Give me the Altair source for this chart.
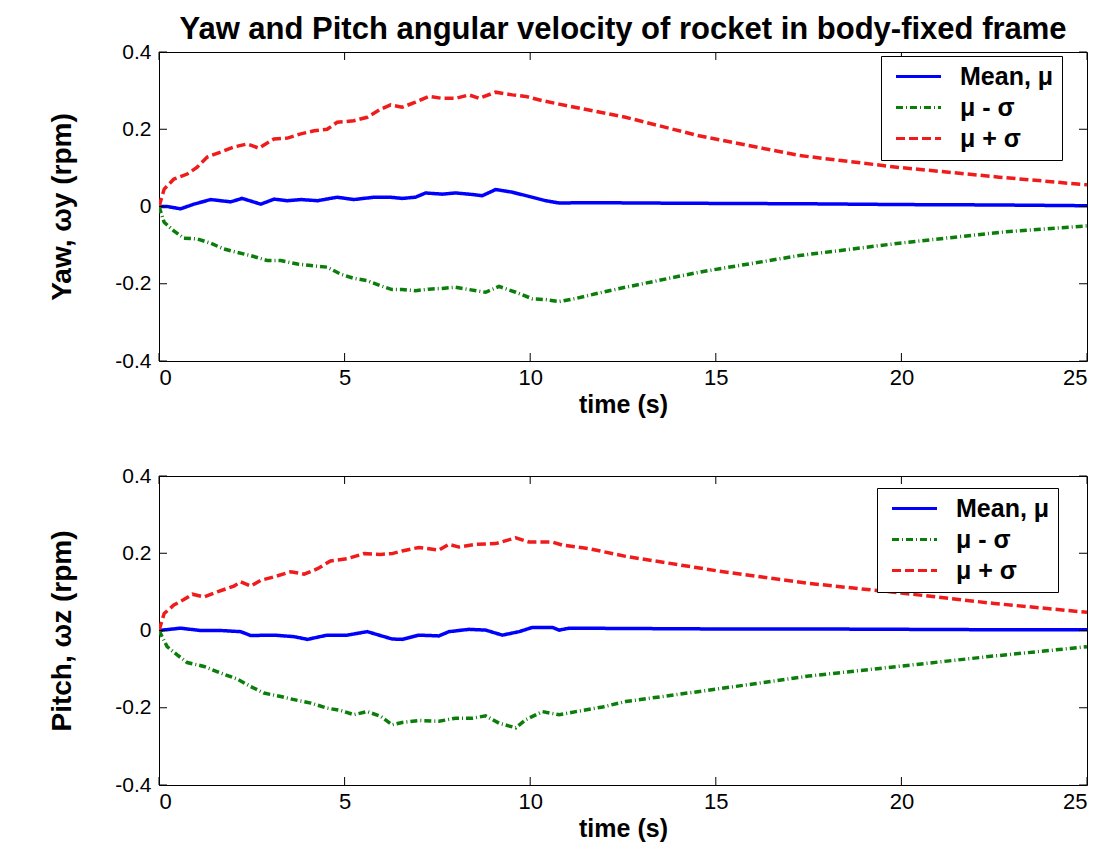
import altair as alt
import pandas as pd

# ---------------- data ----------------
SERIES = ["Mean, μ", "μ - σ", "μ + σ"]
COLORS = ["#0000ff", "#0a7d0a", "#f01c1c"]
DASHES = [[1, 0], [7, 3, 1, 3], [9, 4]]

X_TICKS = [0, 5, 10, 15, 20, 25]
Y_TICKS = [-0.4, -0.2, 0, 0.2, 0.4]

# Yaw (top panel)
yaw_mean_t = [0, 0.22, 0.58, 0.94, 1.39, 1.93, 2.24, 2.74, 3.10, 3.46, 3.82, 4.27, 4.80, 5.25,
              5.79, 6.24, 6.55, 6.91, 7.18, 7.63, 7.99, 8.35, 8.71, 9.07, 9.52, 9.97, 10.42,
              10.78, 11.58, 13, 15, 17.5, 20, 22.5, 25]
yaw_mean_v = [0.0, 0.0, -0.006, 0.006, 0.018, 0.012, 0.021, 0.006, 0.019, 0.015, 0.018, 0.015,
              0.024, 0.018, 0.024, 0.024, 0.021, 0.024, 0.035, 0.032, 0.035, 0.032, 0.028, 0.044,
              0.037, 0.026, 0.015, 0.009, 0.010, 0.009, 0.008, 0.007, 0.005, 0.004, 0.002]

yaw_lo_t = [0, 0.14, 0.40, 0.67, 1.03, 1.39, 1.75, 2.11, 2.47, 2.92, 3.28, 3.73, 4.09, 4.53, 4.89,
            5.25, 5.61, 5.97, 6.28, 6.55, 6.91, 7.27, 7.63, 7.99, 8.35, 8.80, 9.16, 9.61, 10.06,
            10.42, 10.78, 11.23, 11.85, 12.57, 14.55, 17.25, 19.94, 22.63, 25]
yaw_lo_v = [0.0, -0.041, -0.063, -0.082, -0.084, -0.095, -0.110, -0.119, -0.127, -0.140, -0.140,
            -0.149, -0.153, -0.157, -0.175, -0.186, -0.192, -0.205, -0.215, -0.215, -0.218,
            -0.214, -0.212, -0.209, -0.215, -0.222, -0.207, -0.222, -0.239, -0.241, -0.246,
            -0.238, -0.224, -0.209, -0.170, -0.127, -0.095, -0.067, -0.050]

yaw_hi_t = [0, 0.14, 0.40, 0.76, 1.03, 1.30, 1.66, 2.02, 2.38, 2.69, 3.10, 3.46, 3.82, 4.18, 4.53,
            4.80, 5.25, 5.61, 5.97, 6.24, 6.55, 6.91, 7.27, 7.63, 7.99, 8.35, 8.62, 9.07, 9.52,
            9.88, 10.33, 10.78, 11.58, 12.57, 14.55, 17.25, 19.94, 22.63, 25]
yaw_hi_v = [0.0, 0.045, 0.071, 0.084, 0.102, 0.128, 0.141, 0.154, 0.162, 0.151, 0.175, 0.177,
            0.188, 0.196, 0.200, 0.218, 0.222, 0.231, 0.252, 0.263, 0.257, 0.270, 0.285, 0.280,
            0.280, 0.289, 0.280, 0.296, 0.289, 0.285, 0.274, 0.265, 0.250, 0.231, 0.183, 0.132,
            0.101, 0.076, 0.056]

# Pitch (bottom panel)
pitch_mean_t = [0, 0.58, 1.12, 1.66, 2.20, 2.47, 3.10, 3.64, 4.00, 4.53, 5.07, 5.61, 6.28, 6.55,
                7.00, 7.54, 7.81, 8.35, 8.80, 9.25, 9.70, 10.06, 10.6, 10.78, 11.05, 13, 15, 17.5,
                20, 22.5, 25]
pitch_mean_v = [0.0, 0.006, 0.0, 0.0, -0.003, -0.013, -0.012, -0.016, -0.023, -0.012, -0.012,
                -0.003, -0.022, -0.023, -0.012, -0.014, -0.003, 0.003, 0.001, -0.012, -0.003,
                0.008, 0.008, 0.001, 0.006, 0.005, 0.004, 0.004, 0.003, 0.002, 0.002]

pitch_lo_t = [0, 0.22, 0.49, 0.76, 1.21, 1.66, 2.11, 2.47, 2.83, 3.28, 3.64, 4.09, 4.53, 4.89,
              5.25, 5.61, 5.97, 6.28, 6.55, 7.00, 7.54, 7.99, 8.44, 8.80, 9.16, 9.61, 9.88, 10.33,
              10.78, 11.23, 11.95, 12.57, 15, 17.5, 20, 22.5, 25]
pitch_lo_v = [0.0, -0.042, -0.063, -0.083, -0.093, -0.110, -0.126, -0.145, -0.162, -0.171,
              -0.179, -0.188, -0.201, -0.207, -0.218, -0.210, -0.222, -0.244, -0.238, -0.233,
              -0.235, -0.227, -0.227, -0.221, -0.240, -0.252, -0.231, -0.210, -0.218, -0.210,
              -0.198, -0.184, -0.152, -0.118, -0.092, -0.066, -0.042]

pitch_hi_t = [0, 0.14, 0.40, 0.67, 0.90, 1.21, 1.57, 2.02, 2.20, 2.47, 2.74, 3.10, 3.55, 3.91,
              4.27, 4.62, 5.07, 5.52, 5.97, 6.28, 6.55, 7.00, 7.54, 7.81, 8.08, 8.53, 9.07, 9.61,
              9.97, 10.6, 10.87, 11.58, 12.57, 15, 17.5, 20, 22.5, 25]
pitch_hi_v = [0.0, 0.044, 0.066, 0.080, 0.094, 0.087, 0.100, 0.115, 0.126, 0.115, 0.130, 0.139,
              0.152, 0.146, 0.160, 0.180, 0.186, 0.199, 0.197, 0.199, 0.206, 0.215, 0.208, 0.223,
              0.216, 0.223, 0.225, 0.240, 0.229, 0.229, 0.221, 0.212, 0.192, 0.155, 0.122, 0.097,
              0.070, 0.047]


def long_df(parts):
    rows = []
    for name, ts, vs in parts:
        for t, v in zip(ts, vs):
            rows.append({"t": t, "v": v, "series": name})
    return pd.DataFrame(rows)


yaw_df = long_df([(SERIES[0], yaw_mean_t, yaw_mean_v),
                  (SERIES[1], yaw_lo_t, yaw_lo_v),
                  (SERIES[2], yaw_hi_t, yaw_hi_v)])
pitch_df = long_df([(SERIES[0], pitch_mean_t, pitch_mean_v),
                    (SERIES[1], pitch_lo_t, pitch_lo_v),
                    (SERIES[2], pitch_hi_t, pitch_hi_v)])

# ---------------- styling ----------------
W, H = 928, 309
TL = 8
FONT = "Liberation Sans, Arial, sans-serif"

XT = pd.DataFrame({"t": X_TICKS})
YT = pd.DataFrame({"v": Y_TICKS})

LABEL_EXPR = ("datum.value == 0 ? '0' : (datum.value < 0 ? '-' + format(-datum.value, '.1f') "
              ": format(datum.value, '.1f'))")


def panel(df, ytitle, lx, ly, title=None):
    xs = alt.Scale(domain=[0, 25], nice=False, zero=False)
    ys = alt.Scale(domain=[-0.4, 0.4], nice=False, zero=False)
    xaxis = alt.Axis(values=X_TICKS, title="time (s)", labelFont=FONT,
                     labelFontSize=22, labelPadding=6, titleFont=FONT,
                     titleFontSize=25, titleFontWeight="bold", titlePadding=4)
    yaxis = alt.Axis(values=Y_TICKS, title=ytitle, labelExpr=LABEL_EXPR,
                     labelFont=FONT, labelFontSize=21, labelPadding=8,
                     titleFont=FONT, titleFontSize=28, titleFontWeight="bold",
                     titlePadding=38)
    leg = alt.Legend(title=None, orient="none", legendX=lx, legendY=ly,
                     symbolType="M-2.25,0H2.25", symbolSize=400, symbolStrokeWidth=3,
                     labelFont=FONT, labelFontSize=25, labelFontWeight="bold",
                     labelColor="black", strokeColor="black", fillColor="white",
                     padding=8, rowPadding=5, labelOffset=29, symbolOffset=17)
    lines = alt.Chart(df).mark_line(strokeWidth=3.5, clip=True).encode(
        x=alt.X("t:Q", scale=xs, axis=xaxis),
        y=alt.Y("v:Q", scale=ys, axis=yaxis),
        color=alt.Color("series:N", scale=alt.Scale(domain=SERIES, range=COLORS), legend=leg),
        strokeDash=alt.StrokeDash("series:N", scale=alt.Scale(domain=SERIES, range=DASHES),
                                  legend=leg),
    )
    xb = alt.Chart(XT).mark_rule(color="black", strokeWidth=1).encode(
        x=alt.X("t:Q", scale=xs, axis=xaxis), y=alt.value(H), y2=alt.value(H - TL))
    xtp = alt.Chart(XT).mark_rule(color="black", strokeWidth=1).encode(
        x=alt.X("t:Q", scale=xs, axis=xaxis), y=alt.value(0), y2=alt.value(TL))
    yl = alt.Chart(YT).mark_rule(color="black", strokeWidth=1).encode(
        y=alt.Y("v:Q", scale=ys, axis=yaxis), x=alt.value(0), x2=alt.value(TL))
    yr = alt.Chart(YT).mark_rule(color="black", strokeWidth=1).encode(
        y=alt.Y("v:Q", scale=ys, axis=yaxis), x=alt.value(W), x2=alt.value(W - TL))
    props = dict(width=W, height=H)
    if title:
        props["title"] = alt.TitleParams(text=title, font=FONT, fontSize=31, fontWeight="bold",
                                         anchor="middle", offset=-5, color="black")
    return alt.layer(lines, xb, xtp, yl, yr).properties(**props)


top = panel(yaw_df, "Yaw, ωy (rpm)", 722, 4,
            title="Yaw and Pitch angular velocity of rocket in body-fixed frame")
bottom = panel(pitch_df, "Pitch, ωz (rpm)", 718, 12)

chart = alt.vconcat(top, bottom, spacing=46).resolve_scale(
    color="independent", strokeDash="independent"
).resolve_legend(
    color="independent", strokeDash="independent"
).properties(
    padding={"left": 40, "top": 5, "right": 5, "bottom": 0},
    background="white",
).configure_view(stroke="black", strokeWidth=1).configure_axis(
    grid=False, ticks=False, domain=False, labelColor="black", titleColor="black"
)

chart.save("out.html", embed_options={"renderer": "svg", "actions": False})
